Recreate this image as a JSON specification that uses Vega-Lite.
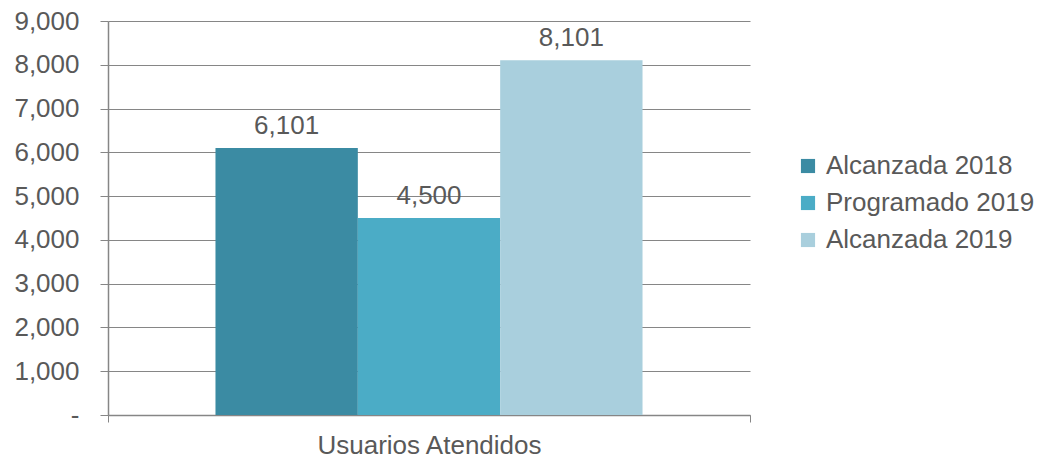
{
  "$schema": "https://vega.github.io/schema/vega-lite/v6.json",
  "autosize": {"type": "none"},
  "width": 642,
  "height": 394,
  "padding": {"left": 108, "top": 21, "right": 287, "bottom": 44},
  "background": "white",
  "config": {
    "view": {"stroke": null},
    "font": "Liberation Sans",
    "axis": {"labelFont": "Liberation Sans", "labelColor": "#595959", "labelFontSize": 26, "labelLimit": 0, "domainColor": "#868686", "tickColor": "#868686", "gridColor": "#868686"},
    "legend": {"labelFont": "Liberation Sans", "labelColor": "#595959", "labelFontSize": 26, "labelLimit": 0}
  },
  "data": {
    "values": [
      {"categoria": "Usuarios Atendidos", "serie": "Alcanzada 2018", "valor": 6101},
      {"categoria": "Usuarios Atendidos", "serie": "Programado 2019", "valor": 4500},
      {"categoria": "Usuarios Atendidos", "serie": "Alcanzada 2019", "valor": 8101}
    ]
  },
  "encoding": {
    "x": {
      "field": "categoria", "type": "nominal",
      "scale": {"paddingInner": 0, "paddingOuter": 0},
      "axis": {"title": null, "labelAngle": 0, "tickBand": "extent", "tickSize": 7, "labelPadding": 10, "domainWidth": 1.5, "grid": false}
    },
    "xOffset": {
      "field": "serie", "type": "nominal",
      "sort": ["Alcanzada 2018", "Programado 2019", "Alcanzada 2019"],
      "scale": {"paddingInner": 0, "paddingOuter": 0.755}
    },
    "y": {
      "field": "valor", "type": "quantitative",
      "scale": {"domain": [0, 9000], "nice": false},
      "axis": {
        "title": null,
        "values": [0, 1000, 2000, 3000, 4000, 5000, 6000, 7000, 8000, 9000],
        "labelExpr": "datum.value == 0 ? '-' : format(datum.value, ',')",
        "tickSize": 8, "labelPadding": 21, "grid": true, "gridWidth": 1, "domainWidth": 1.5,
        "encode": {"labels": {"update": {"dx": {"signal": "datum.value === 0 ? -17 : 0"}}}}
      }
    }
  },
  "layer": [
    {
      "mark": {"type": "bar"},
      "encoding": {
        "color": {
          "field": "serie", "type": "nominal",
          "sort": ["Alcanzada 2018", "Programado 2019", "Alcanzada 2019"],
          "scale": {"domain": ["Alcanzada 2018", "Programado 2019", "Alcanzada 2019"], "range": ["#3B8BA3", "#4BACC6", "#A9CFDD"]},
          "legend": {"title": null, "orient": "none", "legendX": 687, "legendY": 132, "symbolType": "square", "symbolSize": 200, "symbolStrokeWidth": 0, "rowPadding": 11, "labelOffset": 5}
        }
      }
    },
    {
      "mark": {"type": "text", "dy": -22, "fontSize": 26, "color": "#595959", "font": "Liberation Sans"},
      "encoding": {"text": {"field": "valor", "type": "quantitative", "format": ","}}
    }
  ]
}
